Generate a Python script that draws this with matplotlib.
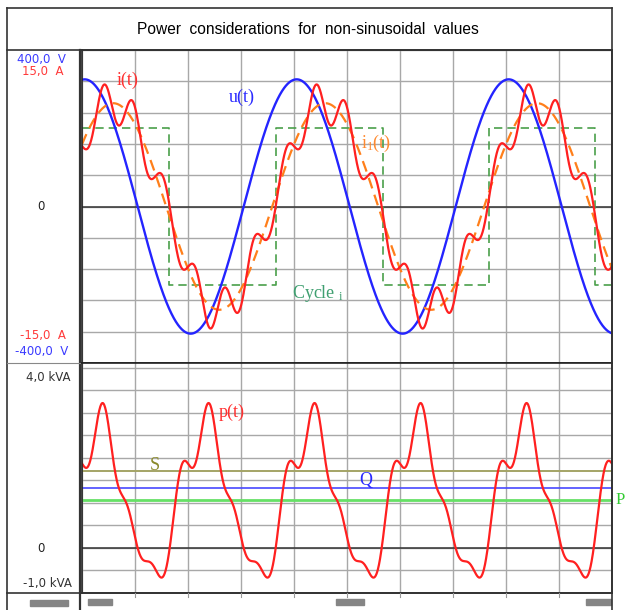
import numpy as np
import matplotlib
matplotlib.use("Agg")
import matplotlib.pyplot as plt
from matplotlib.patches import Rectangle
from matplotlib.lines import Line2D

plt.rcParams['mathtext.fontset'] = 'custom'
plt.rcParams['mathtext.rm'] = 'Liberation Serif'
plt.rcParams['mathtext.it'] = 'Liberation Serif:italic'

W, H = 629, 610

# voltage: peak value and phase (deg, one period = 4 grid divisions)
u_peak = 325.0
u_phase = 4.5

# current harmonics: order, peak (A), phase (deg)
harm_order = [1, 3, 5, 7, 9]
harm_amp = [9.90, 0.24, 0.13, 1.88, 0.21]
harm_phase = [53.0, 96.0, 3.0, -105.0, 7.8]

# power levels (kVA)
s_val, q_val, p_val = 1.71, 1.33, 1.07

# square-wave "Cycle i" (edges in divisions, level in A)
cycle_t = [0, 1.65, 3.66, 5.67, 7.68, 9.68, 10]
cycle_lvl = [7.5, -7.5, 7.5, -7.5, 7.5, -7.5, -7.5]

t = np.linspace(0, 10, 2000)
th = 2 * np.pi * t / 4
u = u_peak * np.cos(th - np.radians(u_phase))
i = sum(A * np.cos(n * th - np.radians(ph))
        for n, A, ph in zip(harm_order, harm_amp, harm_phase))
i1 = harm_amp[0] * np.cos(th - np.radians(harm_phase[0]))
p = u * i / 1000

fig = plt.figure(figsize=(W / 100, H / 100), dpi=100)


def px_axes(x0, y0, x1, y1):
    return fig.add_axes([x0 / W, 1 - y1 / H, (x1 - x0) / W, (y1 - y0) / H])


def ftext(x, y, s, **kw):
    fig.text(x / W, 1 - y / H, s, **kw)


def fline(xs, ys, **kw):
    fig.add_artist(Line2D([x / W for x in xs], [1 - y / H for y in ys], **kw))


grid_c = '#a8a8a8'
k = 400 / 15  # A -> V scale on the top panel

ax1 = px_axes(82, 50, 612, 363)
ax1.set_xlim(0, 10)
ax1.set_ylim(-400, 400)
ax1.set_xticks(np.arange(0, 11))
ax1.set_yticks(np.arange(-400, 401, 80))
ax1.grid(color=grid_c, lw=1.0)
ax1.axhline(0, color='#333333', lw=1.1)
ax1.plot(cycle_t, np.array(cycle_lvl) * k, drawstyle='steps-post', color='#4aa04a',
         lw=1.2, dashes=(5, 3))
ax1.plot(t, u, color='#2424ff', lw=1.7)
ax1.plot(t, i1 * k, color='#ff7f1a', lw=1.6, dashes=(5, 3))
ax1.plot(t, i * k, color='#ff2020', lw=1.6)

ax2 = px_axes(82, 363, 612, 593)
ax2.set_xlim(0, 10)
ax2.set_ylim(-1, 4.11)
ax2.set_xticks(np.arange(0, 11))
ax2.set_yticks(np.arange(-1, 4.01, 0.5))
ax2.grid(color=grid_c, lw=1.0)
ax2.axhline(0, color='#333333', lw=1.1)
ax2.axhline(s_val, color='#a4a466', lw=1.4)
ax2.axhline(q_val, color='#4848ff', lw=1.2)
ax2.axhline(p_val, color='#66e066', lw=2.0)
ax2.plot(t, p, color='#ff2020', lw=1.6)

for ax in (ax1, ax2):
    ax.tick_params(length=0, labelleft=False, labelbottom=False)
    for sp in ax.spines.values():
        sp.set_color('#222222')
        sp.set_linewidth(1.2)

# frame
fline([7, 612], [8, 8], color='#333333', lw=1.2)
fline([7, 7], [8, 610], color='#333333', lw=1.2)
fline([612, 612], [8, 610], color='#333333', lw=1.2)
fline([7, 612], [50, 50], color='#333333', lw=1.2)
fline([80, 80], [50, 610], color='#333333', lw=1.6)
fline([7, 80], [363, 363], color='#888888', lw=0.8)
fline([7, 612], [593, 593], color='#333333', lw=1.2)
for xg in np.arange(1, 10):
    xp = 82 + 53 * xg
    fline([xp, xp], [593, 597], color='#999999', lw=0.8)
for x0, y0, x1, y1 in [(30, 600, 68, 606), (88, 599, 112, 605),
                       (336, 599, 364, 605), (586, 599, 611, 605)]:
    fig.add_artist(Rectangle((x0 / W, 1 - y1 / H), (x1 - x0) / W, (y1 - y0) / H,
                             color='#858585', transform=fig.transFigure))

ftext(308, 29, 'Power  considerations  for  non-sinusoidal  values', ha='center',
      va='center', fontsize=11.2, family='Liberation Sans')

lab = dict(ha='right', va='center', fontsize=8.5, family='DejaVu Sans')
ftext(66, 60, '400,0  V', color='#3a3aff', **lab)
ftext(64, 72, '15,0  A', color='#ff3a3a', **lab)
ftext(45, 207, '0', color='#222222', **lab)
ftext(66, 336, '-15,0  A', color='#ff3a3a', **lab)
ftext(68, 352, '-400,0  V', color='#3a3aff', **lab)
ftext(70, 377, '4,0 kVA', color='#333333', **lab)
ftext(45, 548, '0', color='#222222', **lab)
ftext(72, 584, '-1,0 kVA', color='#333333', **lab)

ser = dict(ha='center', va='center', fontsize=13, family='Liberation Serif')
ftext(128, 80, 'i(t)', color='#ff3030', **ser)
ftext(242, 97, 'u(t)', color='#2a2aff', **ser)
ftext(376, 143, r'$\mathrm{i}_\mathrm{1}\mathrm{(t)}$', color='#ff8a30', **ser)
ftext(318, 293, r'$\mathrm{Cycle}\ _\mathrm{i}$', color='#3f9f70', **ser)
ftext(232, 412, 'p(t)', color='#ff3030', **ser)
ftext(155, 466, 'S', color='#8a8a2a', **ser)
ftext(366, 481, 'Q', color='#2a2aff', **ser)
ftext(616, 500, 'P', color='#33cc33', ha='left', va='center', fontsize=12,
      family='Liberation Serif')

fig.savefig('out.png', dpi=100)
